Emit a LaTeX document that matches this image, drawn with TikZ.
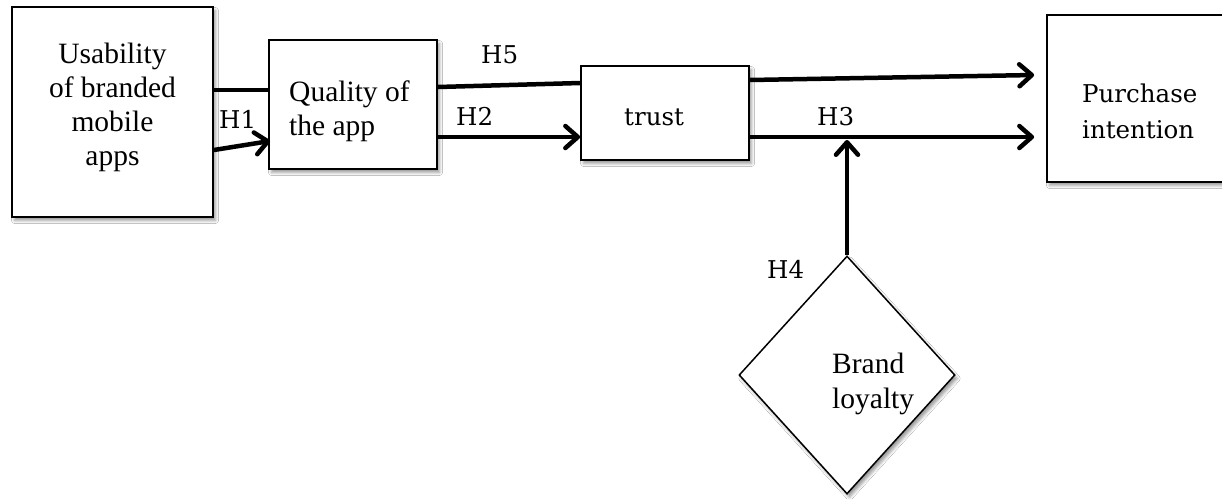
\documentclass[tikz,border=0pt]{standalone}
\usepackage{fontspec}
\setmainfont{Liberation Serif}
\newfontfamily\cam{DejaVu Serif}
\usetikzlibrary{arrows.meta,shapes.geometric,shadows.blur}
\begin{document}
\begin{tikzpicture}[x=1pt,y=-1pt,
  shad/.style={blur shadow={shadow xshift=2.5pt, shadow yshift=-3.5pt, shadow opacity=40, shadow blur radius=3pt}},
  box/.style={draw=black, line width=1.8pt, fill=white, rectangle, inner sep=0pt, shad},
  conn/.style={line width=4.5pt},
  arr/.style={conn, -{Straight Barb[length=12.5pt,width=22pt,round]}},
  times/.style={font=\fontsize{29.5}{34}\selectfont, inner sep=0pt},
  cambria/.style={font=\cam\fontsize{24.5}{36}\selectfont, inner sep=0pt},
  lbl/.style={cambria, anchor=base west},
]
\useasboundingbox (0,0) rectangle (1222,499);
\fill[white] (0,0) rectangle (1222,499);
\clip (0,0) rectangle (1222,499);

% boxes
\node[box, minimum width=201pt, minimum height=210pt] (usab) at (112.5,112) {};
\node[box, minimum width=168pt, minimum height=129pt] (qual) at (353,104.5) {};
\node[box, minimum width=168pt, minimum height=94pt] (trust) at (665,113) {};
\node[box, minimum width=190pt, minimum height=167pt] (purch) at (1142,98.5) {};
\node[draw=black, line width=1.5pt, fill=white, diamond, inner sep=0pt,
      minimum width=216pt, minimum height=238pt, shad] (bl) at (847,375) {};

% texts
\node[times, align=center, anchor=base] (usabt) at (112.5,165) {Usability\\of branded\\mobile\\apps};
\node[times, align=left, anchor=base west] (qualt) at (289,135) {Quality of\\the app};
\node[cambria, anchor=base west] (trustt) at (624,125) {trust};
\node[cambria, align=left, anchor=base west] (purcht) at (1082,138) {Purchase\\intention};
\node[times, align=left, anchor=base west, font=\fontsize{29.5}{35}\selectfont] (blt) at (832,408) {Brand\\loyalty};

% connectors
\draw[conn] (usab.east |- 0,90) -- (qual.west |- 0,90);
\draw[conn] (qual.east |- 0,87) -- (trust.west |- 0,83);
\draw[arr] (trust.east |- 0,80) -- ([xshift=-12pt]purch.west |- 0,75);
\draw[arr] (usab.east |- 0,150) -- ([xshift=2pt]qual.west |- 0,141);
\draw[arr] (qual.east |- 0,137) -- (trust.west |- 0,137);
\draw[arr] (trust.east |- 0,137) -- ([xshift=-12pt]purch.west |- 0,137);
\draw[arr] (bl.north) -- (bl.north |- 0,140);

% labels
\node[lbl] (h1) at (219,128) {H1};
\node[lbl] (h2) at (456,125) {H2};
\node[lbl] (h3) at (817,125) {H3};
\node[lbl] (h4) at (767,278) {H4};
\node[lbl] (h5) at (481,63) {H5};
\end{tikzpicture}
\end{document}
